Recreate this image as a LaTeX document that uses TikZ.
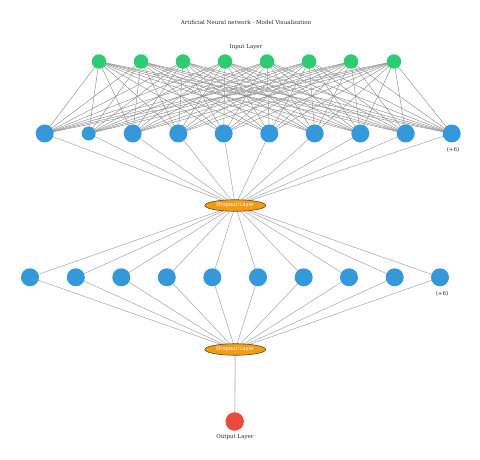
\documentclass[tikz,border=0pt]{standalone}
\usepackage{fontspec}
\setmainfont{DejaVu Serif}
\newfontfamily\dropfont{DejaVu Sans}
\usetikzlibrary{shapes.geometric}
\pgfdeclarelayer{background}
\pgfsetlayers{background,main}
\definecolor{ingreen}{HTML}{2ECC71}
\definecolor{hidblue}{HTML}{3498DB}
\definecolor{droporange}{HTML}{F39C12}
\definecolor{dropedge}{HTML}{5A4A30}
\definecolor{outred}{HTML}{E74C3C}
\definecolor{edgegray}{HTML}{8E8E8E}
\definecolor{lightedge}{HTML}{ABABAB}
\definecolor{outedge}{HTML}{CCCCCC}
\tikzset{
  inneuron/.style={circle, fill=ingreen, inner sep=0pt, minimum size=14.5pt},
  hidneuron/.style={circle, fill=hidblue, inner sep=0pt, minimum size=18pt},
  smallneuron/.style={circle, fill=hidblue, inner sep=0pt, minimum size=14pt},
  outneuron/.style={circle, fill=outred, inner sep=0pt, minimum size=18.5pt},
  dropbox/.style={ellipse, fill=droporange, draw=dropedge, line width=0.6pt, inner sep=0pt, minimum width=61pt, minimum height=11.5pt, text=white, font=\dropfont\fontsize{5.3}{6}\selectfont},
  caption/.style={font=\fontsize{5.5}{6}\selectfont, text=black!85},
  conn/.style={draw=edgegray, line width=0.45pt},
  lightconn/.style={draw=lightedge, line width=0.55pt},
  outconn/.style={draw=outedge, line width=1.1pt}
}
\begin{document}
\begin{tikzpicture}[x=1pt,y=-1pt]
\useasboundingbox (0,0) rectangle (480,460);
\node[caption] (title) at (246,22) {Artificial Neural network - Model Visualization};
\node[caption] (inlabel) at (246,47) {Input Layer};
% input layer
\foreach \i/\x in {1/99,2/141,3/183,4/225,5/267,6/309,7/351,8/394}
  \node[inneuron] (i\i) at (\x,61.5) {};
% hidden layer 1
\foreach \i/\x in {1/44.7,3/132.7,4/178.3,5/223.7,6/269.3,7/314.7,8/360.3,9/405.7,10/451.7}
  \node[hidneuron] (h\i) at (\x,133.5) {};
\node[smallneuron] (h2) at (88.7,133.5) {};
\node[caption] (more1) at (453,149.5) {(+6)};
% dropout 1
\node[dropbox] (d1) at (235.3,205.5) {Dropout Layer};
% hidden layer 2
\foreach \i/\x in {1/30,2/75.8,3/121.3,4/166.8,5/212.3,6/258,7/303.7,8/349,9/394.7,10/440}
  \node[hidneuron] (g\i) at (\x,277.3) {};
\node[caption] (more2) at (442,293.5) {(+6)};
% dropout 2
\node[dropbox] (d2) at (235.3,349.5) {Dropout Layer};
% output
\node[outneuron] (out) at (234.7,421.5) {};
\node[caption] (outlabel) at (235,437.5) {Output Layer};
\begin{pgfonlayer}{background}
  \foreach \a in {1,...,8}
    \foreach \b in {1,...,10}
      \draw[conn] (i\a.center) -- (h\b.center);
  \foreach \b in {1,...,10}
    \draw[lightconn] (h\b.center) -- (d1.center);
  \foreach \b in {1,...,10}
    \draw[lightconn] (d1.center) -- (g\b.center);
  \foreach \b in {1,...,10}
    \draw[lightconn] (g\b.center) -- (d2.center);
  \draw[outconn] (d2.center) -- (out.center);
\end{pgfonlayer}
\end{tikzpicture}
\end{document}
